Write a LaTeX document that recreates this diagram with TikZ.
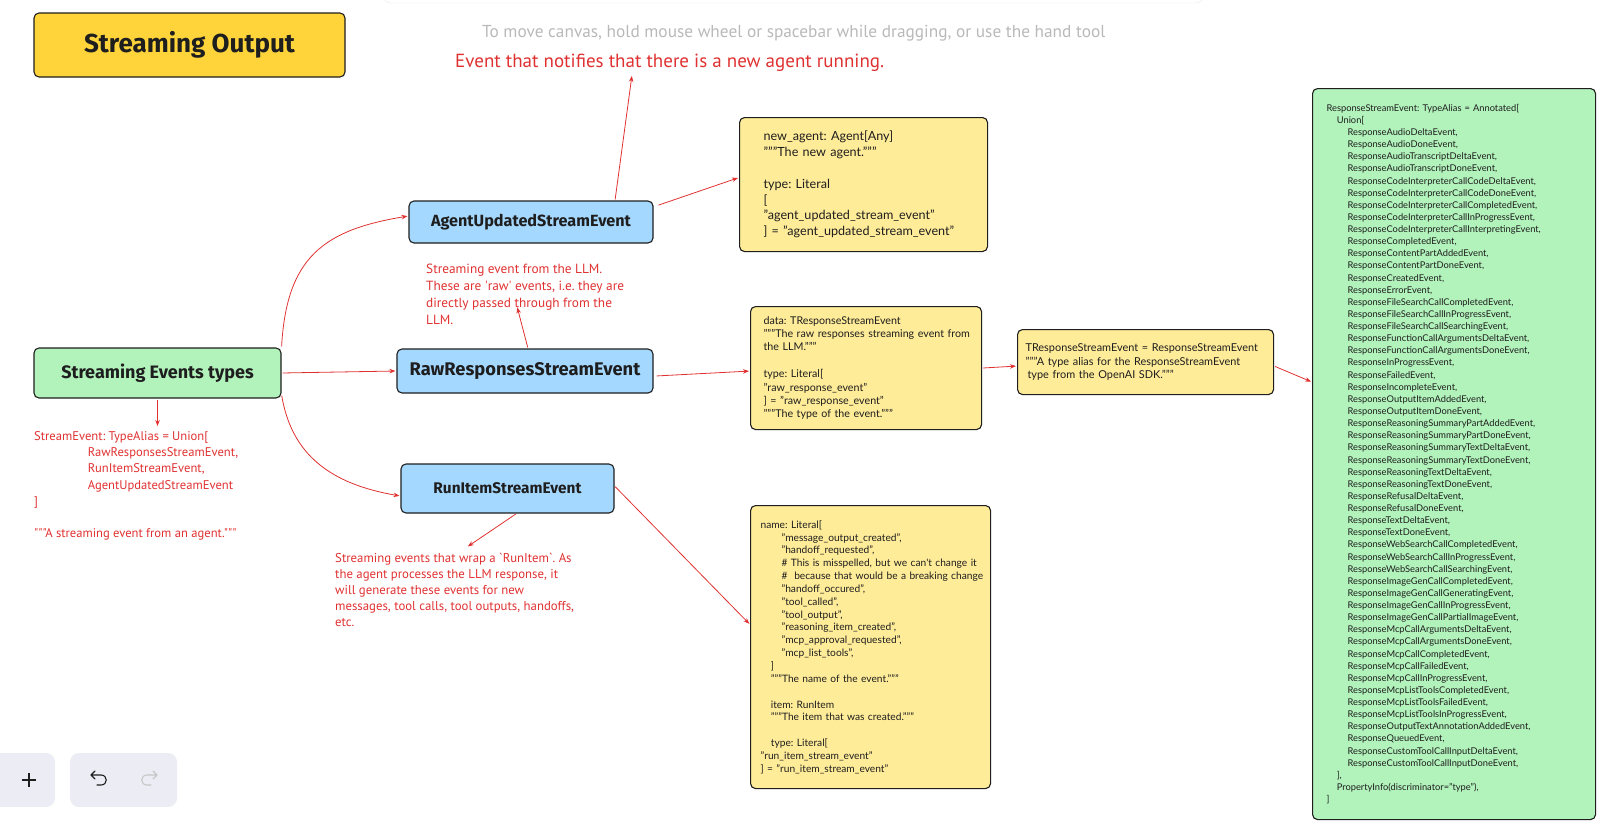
\documentclass[tikz,border=0pt]{standalone}
\usepackage{fontspec}
\usepackage{tikz}
\usetikzlibrary{arrows.meta, positioning, calc}
\setmainfont{Lato}
\newfontfamily\headfont{Fira Sans}
\newfontfamily\notefont{PT Sans}
\definecolor{lBlue}    {RGB}{165,216,255}
\definecolor{lGreen}   {RGB}{178,242,187}
\definecolor{lYellow}  {RGB}{255,236,153}
\definecolor{dkYellow} {RGB}{255,212,59}
\definecolor{exRed}    {RGB}{224,49,49}
\definecolor{dkGray}   {RGB}{30,30,30}
\definecolor{hintGray} {RGB}{185,185,185}
\definecolor{btnGray}  {RGB}{236,236,244}
\newcommand{\indA}{\hspace*{10.3pt}}
\newcommand{\indB}{\hspace*{21pt}}
\frenchspacing

\begin{document}
\begin{tikzpicture}[x=1pt, y=-1pt,
    ARR/.style={-{Stealth[length=6pt,width=4.5pt]}, exRed, line width=0.8pt, shorten <=1pt, shorten >=1pt},
    BOX/.style={draw=dkGray, line width=1.1pt, rounded corners=5pt, text=dkGray},
    EVT/.style={BOX, fill=lBlue, inner sep=0pt},
    CODE/.style={BOX, fill=lYellow, align=left, anchor=north west, inner ysep=0pt},
    NOTE/.style={exRed, align=left, anchor=north west, inner sep=0pt}]
    \useasboundingbox (0,0) rectangle (1616,827);

    % canvas chrome
    \draw[fill=white, draw=black!8, rounded corners=8pt] (383,-30) rectangle (1204,3);
    \node[anchor=west, inner sep=0pt, text=hintGray, font=\notefont\fontsize{17.3}{21}\selectfont] (hint) at (482,33) {To move canvas, hold mouse wheel or spacebar while dragging, or use the hand tool};
    \fill[btnGray, rounded corners=9pt] (-20,753) rectangle (55,807);
    \fill[btnGray, rounded corners=9pt] (70,753) rectangle (177,807);
    \draw[dkGray, line width=1.1pt] (22,780) -- (36,780) (29,773) -- (29,787);
    \draw[dkGray, line width=1.1pt, line cap=round, line join=round] (95,771) -- (91,775) -- (95,779) (91,775) -- (101,775) .. controls (108,775) and (108,785) .. (101,785) -- (97,785);
    \draw[black!22, line width=1.1pt, line cap=round, line join=round] (153,771) -- (157,775) -- (153,779) (157,775) -- (147,775) .. controls (140,775) and (140,785) .. (147,785) -- (151,785);

    % boxes
    \node[BOX, fill=dkYellow, minimum width=311pt, minimum height=64pt, font=\headfont\bfseries\fontsize{26}{29}\selectfont] (title) at (189.5,45) {Streaming Output};
    \node[EVT, fill=lGreen, minimum width=247pt, minimum height=50pt, font=\headfont\bfseries\fontsize{18}{21}\selectfont] (types) at (157.5,373) {Streaming Events types};
    \node[EVT, minimum width=244pt, minimum height=42pt, font=\headfont\bfseries\fontsize{16.2}{19}\selectfont] (agent) at (531,222) {AgentUpdatedStreamEvent};
    \node[EVT, minimum width=256pt, minimum height=44pt, font=\headfont\bfseries\fontsize{18.3}{21}\selectfont] (raw) at (525,371) {RawResponsesStreamEvent};
    \node[EVT, minimum width=213pt, minimum height=49pt, font=\headfont\bfseries\fontsize{15.4}{18}\selectfont] (runitem) at (507.5,488.5) {RunItemStreamEvent};

    \node[CODE, minimum height=134pt, inner xsep=24pt, text width=200pt, font=\fontsize{12.6}{15.8}\selectfont] (agentcode) at (739,117) {new\_agent: Agent[Any]\\ """The new agent."""\\[15.8pt] type: Literal\\ {[}\\ "agent\_updated\_stream\_event"\\ \mbox{] = "agent\_updated\_stream\_event"}};
    \node[CODE, minimum height=123pt, inner xsep=13pt, text width=205pt, font=\fontsize{10.7}{13.4}\selectfont] (rawcode) at (750,306) {data: TResponseStreamEvent\\ \mbox{"""The raw responses streaming event from}\\ the LLM."""\\[13.4pt] type: Literal[\\ "raw\_response\_event"\\ ] = "raw\_response\_event"\\ """The type of the event."""};
    \node[CODE, minimum height=65pt, inner xsep=8pt, text width=240pt, font=\fontsize{10.9}{13.4}\selectfont] (aliascode) at (1017,329) {\mbox{TResponseStreamEvent = ResponseStreamEvent}\\ \mbox{"""A type alias for the ResponseStreamEvent}\\ \hspace*{2pt}type from the OpenAI SDK."""};
    \node[CODE, minimum height=283pt, inner xsep=10pt, text width=220pt, font=\fontsize{10.2}{12.84}\selectfont] (runcode) at (750,505) {name: Literal[\\
        \indB"message\_output\_created",\\
        \indB"handoff\_requested",\\
        \indB\# This is misspelled, but we can\textquotesingle t change it\\
        \mbox{\indB\#\ \ because that would be a breaking change}\\
        \indB"handoff\_occured",\\
        \indB"tool\_called",\\
        \indB"tool\_output",\\
        \indB"reasoning\_item\_created",\\
        \indB"mcp\_approval\_requested",\\
        \indB"mcp\_list\_tools",\\
        \indA]\\
        \indA"""The name of the event."""\\[12.84pt]
        \indA item: RunItem\\
        \indA"""The item that was created."""\\[12.84pt]
        \indA type: Literal[\\
        "run\_item\_stream\_event"\\
        ] = "run\_item\_stream\_event"};
    \node[CODE, fill=lGreen, minimum height=731pt, inner xsep=14pt, text width=255pt, font=\fontsize{9.3}{12.13}\selectfont] (unionbox) at (1312,88) {ResponseStreamEvent: TypeAlias = Annotated[\\
        \indA Union[\\
        \indB ResponseAudioDeltaEvent,\\
        \indB ResponseAudioDoneEvent,\\
        \indB ResponseAudioTranscriptDeltaEvent,\\
        \indB ResponseAudioTranscriptDoneEvent,\\
        \indB ResponseCodeInterpreterCallCodeDeltaEvent,\\
        \indB ResponseCodeInterpreterCallCodeDoneEvent,\\
        \indB ResponseCodeInterpreterCallCompletedEvent,\\
        \indB ResponseCodeInterpreterCallInProgressEvent,\\
        \indB ResponseCodeInterpreterCallInterpretingEvent,\\
        \indB ResponseCompletedEvent,\\
        \indB ResponseContentPartAddedEvent,\\
        \indB ResponseContentPartDoneEvent,\\
        \indB ResponseCreatedEvent,\\
        \indB ResponseErrorEvent,\\
        \indB ResponseFileSearchCallCompletedEvent,\\
        \indB ResponseFileSearchCallInProgressEvent,\\
        \indB ResponseFileSearchCallSearchingEvent,\\
        \indB ResponseFunctionCallArgumentsDeltaEvent,\\
        \indB ResponseFunctionCallArgumentsDoneEvent,\\
        \indB ResponseInProgressEvent,\\
        \indB ResponseFailedEvent,\\
        \indB ResponseIncompleteEvent,\\
        \indB ResponseOutputItemAddedEvent,\\
        \indB ResponseOutputItemDoneEvent,\\
        \indB ResponseReasoningSummaryPartAddedEvent,\\
        \indB ResponseReasoningSummaryPartDoneEvent,\\
        \indB ResponseReasoningSummaryTextDeltaEvent,\\
        \indB ResponseReasoningSummaryTextDoneEvent,\\
        \indB ResponseReasoningTextDeltaEvent,\\
        \indB ResponseReasoningTextDoneEvent,\\
        \indB ResponseRefusalDeltaEvent,\\
        \indB ResponseRefusalDoneEvent,\\
        \indB ResponseTextDeltaEvent,\\
        \indB ResponseTextDoneEvent,\\
        \indB ResponseWebSearchCallCompletedEvent,\\
        \indB ResponseWebSearchCallInProgressEvent,\\
        \indB ResponseWebSearchCallSearchingEvent,\\
        \indB ResponseImageGenCallCompletedEvent,\\
        \indB ResponseImageGenCallGeneratingEvent,\\
        \indB ResponseImageGenCallInProgressEvent,\\
        \indB ResponseImageGenCallPartialImageEvent,\\
        \indB ResponseMcpCallArgumentsDeltaEvent,\\
        \indB ResponseMcpCallArgumentsDoneEvent,\\
        \indB ResponseMcpCallCompletedEvent,\\
        \indB ResponseMcpCallFailedEvent,\\
        \indB ResponseMcpCallInProgressEvent,\\
        \indB ResponseMcpListToolsCompletedEvent,\\
        \indB ResponseMcpListToolsFailedEvent,\\
        \indB ResponseMcpListToolsInProgressEvent,\\
        \indB ResponseOutputTextAnnotationAddedEvent,\\
        \indB ResponseQueuedEvent,\\
        \indB ResponseCustomToolCallInputDeltaEvent,\\
        \indB ResponseCustomToolCallInputDoneEvent,\\
        \indA],\\
        \indA PropertyInfo(discriminator="type"),\\
        ]};

    % red notes
    \node[NOTE, anchor=west, font=\notefont\fontsize{19}{22}\selectfont] (eventnote) at (455,63) {Event that notifies that there is a new agent running.};
    \node[NOTE, font=\notefont\fontsize{12.6}{16.3}\selectfont] (streamnote) at (34,431) {StreamEvent: TypeAlias = Union[\\ \hspace*{53.6pt}RawResponsesStreamEvent,\\ \hspace*{53.6pt}RunItemStreamEvent,\\ \hspace*{53.6pt}AgentUpdatedStreamEvent\\ ]\\[16.3pt] """A streaming event from an agent."""};
    \node[NOTE, font=\notefont\fontsize{13.3}{16.8}\selectfont] (rawnote) at (426,264) {Streaming event from the LLM.\\ These are \textquotesingle raw\textquotesingle{} events, i.e. they are\\ directly passed through from the\\ LLM.};
    \node[NOTE, font=\notefont\fontsize{12.8}{16.1}\selectfont] (runnote) at (335,553) {Streaming events that wrap a \textasciigrave RunItem\textasciigrave. As\\ the agent processes the LLM response, it\\ will generate these events for new\\ messages, tool calls, tool outputs, handoffs,\\ etc.};

    % connectors
    \draw[ARR] (types.north east) .. controls +(5,-90) and +(-85,14) .. ([yshift=6pt]agent.west);
    \draw[ARR] (types.east) -- (raw.west);
    \draw[ARR] ([yshift=4pt]types.south east) .. controls +(10,60) and +(-70,-12) .. ([yshift=-7.5pt]runitem.west);
    \draw[ARR, shorten >=5pt] (types.south) -- (types.south |- streamnote.north);
    \draw[ARR] ([xshift=84pt]agent.north) -- ([xshift=177pt,yshift=-3pt]eventnote.south west);
    \draw[ARR] ([xshift=4pt,yshift=-5pt]agent.north east) -- ([yshift=7pt]agentcode.west);
    \draw[ARR] ([xshift=3pt]raw.north) -- ([xshift=91pt,yshift=18pt]rawnote.south west);
    \draw[ARR] ([xshift=2pt,yshift=-5pt]raw.east) -- ([yshift=-3pt]rawcode.west);
    \draw[ARR] (rawcode.east) -- ([yshift=-4pt]aliascode.west);
    \draw[ARR] ([yshift=-4pt]aliascode.east) -- ([yshift=72pt]unionbox.west);
    \draw[ARR] ([xshift=9pt]runitem.south) -- ([xshift=132pt,yshift=6pt]runnote.north west);
    \draw[ARR] ([yshift=2.5pt]runitem.east) -- ([yshift=22.5pt]runcode.west);
\end{tikzpicture}
\end{document}
